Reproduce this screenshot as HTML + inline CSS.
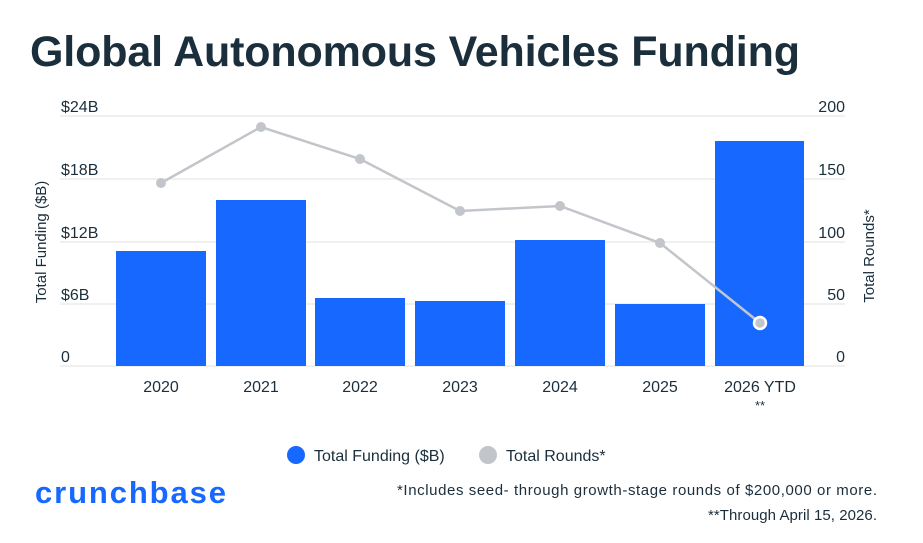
<!DOCTYPE html>
<html><head><meta charset="utf-8"><style>
body{margin:0;width:923px;height:538px;background:#fff;overflow:hidden;font-family:"Liberation Sans",sans-serif;}
</style></head><body>
<svg width="923" height="538" xmlns="http://www.w3.org/2000/svg" font-family="Liberation Sans, sans-serif">
<text x="30" y="66" font-size="43" font-weight="bold" fill="#1b2e3c" textLength="770">Global Autonomous Vehicles Funding</text>
<g stroke="#ececec" stroke-width="1.5">
<line x1="60" y1="116" x2="845" y2="116"/><line x1="60" y1="179" x2="845" y2="179"/>
<line x1="60" y1="242" x2="845" y2="242"/><line x1="60" y1="304" x2="845" y2="304"/>
<line x1="60" y1="366" x2="845" y2="366"/></g>
<g font-size="16" fill="#1b2e3c">
<text x="61" y="112">$24B</text><text x="61" y="175">$18B</text><text x="61" y="238">$12B</text><text x="61" y="300">$6B</text><text x="61" y="362">0</text>
<g text-anchor="end"><text x="845" y="112">200</text><text x="845" y="175">150</text><text x="845" y="238">100</text><text x="845" y="300">50</text><text x="845" y="362">0</text></g>
<g text-anchor="middle"><text x="161" y="392">2020</text><text x="261" y="392">2021</text><text x="360" y="392">2022</text><text x="460" y="392">2023</text><text x="560" y="392">2024</text><text x="660" y="392">2025</text><text x="760" y="392">2026 YTD</text><text x="760" y="410" font-size="13">**</text></g>
<text transform="translate(46,242) rotate(-90)" text-anchor="middle" font-size="15">Total Funding ($B)</text>
<text transform="translate(874,256) rotate(-90)" text-anchor="middle" font-size="15">Total Rounds*</text>
</g>
<g fill="#1668ff">
<rect x="116" y="251" width="90" height="115"/><rect x="216" y="200" width="90" height="166"/>
<rect x="315" y="298" width="90" height="68"/><rect x="415" y="301" width="90" height="65"/>
<rect x="515" y="240" width="90" height="126"/><rect x="615" y="304" width="90" height="62"/>
<rect x="715" y="141" width="89" height="225"/></g>
<polyline points="161,183 261,127 360,159 460,211 560,206 660,243 760,323" fill="none" stroke="#c2c6ca" stroke-width="2.5"/>
<g fill="#c2c6ca"><circle cx="161" cy="183" r="5"/><circle cx="261" cy="127" r="5"/><circle cx="360" cy="159" r="5"/><circle cx="460" cy="211" r="5"/><circle cx="560" cy="206" r="5"/><circle cx="660" cy="243" r="5"/><circle cx="760" cy="323" r="6" stroke="#fff" stroke-width="2.5"/></g>
<circle cx="296" cy="455" r="9" fill="#1668ff"/><text x="314" y="461" font-size="16" fill="#1b2e3c">Total Funding ($B)</text>
<circle cx="488" cy="455" r="9" fill="#c2c6ca"/><text x="506" y="461" font-size="16" fill="#1b2e3c">Total Rounds*</text>
<text x="35" y="503" font-size="31" font-weight="bold" fill="#1668ff" textLength="191">crunchbase</text>
<g font-size="15" fill="#1b2e3c"><text x="397" y="495" textLength="480">*Includes seed- through growth-stage rounds of $200,000 or more.</text><text x="708" y="520" textLength="169">**Through April 15, 2026.</text></g>
</svg>
</body></html>
